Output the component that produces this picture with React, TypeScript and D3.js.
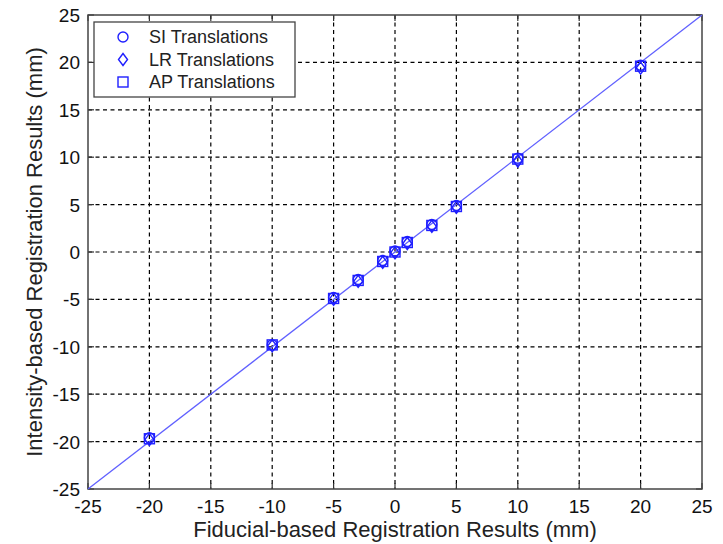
import React from 'react';
import * as d3 from 'd3';

// fiducial-based (x) vs intensity-based (y) results, mm
const fiducial = [-20, -10, -5, -3, -1, 0, 1, 3, 5, 10, 20];
const siValues = [-19.6, -9.8, -4.8, -2.9, -0.9, 0.1, 1.1, 2.9, 4.9, 9.9, 19.7];
const lrValues = [-19.8, -9.9, -5.0, -3.1, -1.1, -0.1, 0.9, 2.7, 4.7, 9.6, 19.4];
const apValues = [-19.7, -9.8, -4.9, -3.0, -1.0, 0.0, 1.0, 2.8, 4.8, 9.8, 19.6];
const tickValues = [-25, -20, -15, -10, -5, 0, 5, 10, 15, 20, 25];
const legendLabels = ['SI Translations', 'LR Translations', 'AP Translations'];

const W = 723;
const H = 544;
const margin = { top: 15, right: 21, bottom: 55, left: 88 };
const blue = '#1f1fff';
const font = '"Liberation Sans", Arial, sans-serif';

const Marker: React.FC<{ kind: number; x: number; y: number }> = ({ kind, x, y }) => {
  if (kind === 0) return <circle cx={x} cy={y} r={5} fill="none" stroke={blue} strokeWidth={1.4} />;
  if (kind === 1)
    return (
      <path
        d={`M${x},${y - 6}L${x + 4.5},${y}L${x},${y + 6}L${x - 4.5},${y}Z`}
        fill="none"
        stroke={blue}
        strokeWidth={1.4}
      />
    );
  return <rect x={x - 5} y={y - 5} width={10} height={10} fill="none" stroke={blue} strokeWidth={1.4} />;
};

export default function App() {
  const innerW = W - margin.left - margin.right;
  const innerH = H - margin.top - margin.bottom;
  const x = d3.scaleLinear().domain([-25, 25]).range([0, innerW]);
  const y = d3.scaleLinear().domain([-25, 25]).range([innerH, 0]);
  const series = [siValues, lrValues, apValues];

  return (
    <svg width={W} height={H} style={{ position: 'absolute', left: 0, top: 0, background: '#fff' }}>
      <g transform={`translate(${margin.left},${margin.top})`} fontFamily={font}>
        {/* grid */}
        {tickValues.slice(1, -1).map(t => (
          <g key={`g${t}`} stroke="#000" strokeWidth={1.2} strokeDasharray="4,3.5">
            <line x1={x(t)} x2={x(t)} y1={0} y2={innerH} />
            <line x1={0} x2={innerW} y1={y(t)} y2={y(t)} />
          </g>
        ))}
        {/* ticks on all four sides */}
        {tickValues.map(t => (
          <g key={`t${t}`} stroke="#333" strokeWidth={1.2}>
            <line x1={x(t)} x2={x(t)} y1={innerH} y2={innerH - 6} />
            <line x1={x(t)} x2={x(t)} y1={0} y2={6} />
            <line x1={0} x2={6} y1={y(t)} y2={y(t)} />
            <line x1={innerW} x2={innerW - 6} y1={y(t)} y2={y(t)} />
          </g>
        ))}
        <rect x={0} y={0} width={innerW} height={innerH} fill="none" stroke="#444" strokeWidth={1.5} />
        {/* tick labels */}
        {tickValues.map(t => (
          <text key={`xl${t}`} x={x(t)} y={innerH + 24} textAnchor="middle" fontSize={19} fill="#111">
            {t}
          </text>
        ))}
        {tickValues.map(t => (
          <text key={`yl${t}`} x={-8} y={y(t) + 7} textAnchor="end" fontSize={19} fill="#111">
            {t}
          </text>
        ))}
        {/* identity line */}
        <line x1={x(-25)} y1={y(-25)} x2={x(25)} y2={y(25)} stroke="#6060ff" strokeWidth={1.3} />
        {/* data markers */}
        {series.map((vals, k) =>
          fiducial.map((f, i) => <Marker key={`m${k}-${i}`} kind={k} x={x(f)} y={y(vals[i])} />)
        )}
        {/* legend */}
        <g transform="translate(6,7)">
          <rect x={0} y={0} width={201} height={75} fill="#fff" stroke="#444" strokeWidth={1.3} />
          {legendLabels.map((l, k) => (
            <g key={l}>
              <Marker kind={k} x={29} y={15 + k * 22.5} />
              <text x={55} y={21 + k * 22.5} fontSize={18} fill="#222">
                {l}
              </text>
            </g>
          ))}
        </g>
        {/* axis titles */}
        <text x={innerW / 2} y={innerH + 48} textAnchor="middle" fontSize={22} fill="#222">
          Fiducial-based Registration Results (mm)
        </text>
        <text
          transform={`translate(${-46},${innerH / 2}) rotate(-90)`}
          textAnchor="middle"
          fontSize={22}
          fill="#222"
        >
          Intensity-based Registration Results (mm)
        </text>
      </g>
    </svg>
  );
}
